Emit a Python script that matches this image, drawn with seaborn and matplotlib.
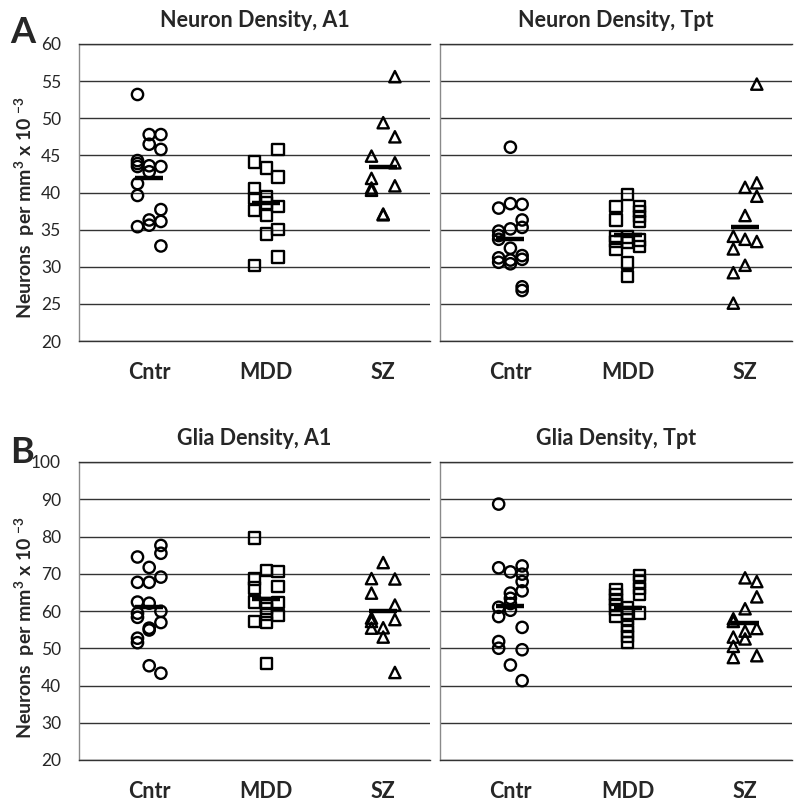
import numpy as np
import pandas as pd

import matplotlib
matplotlib.use("Agg")
import matplotlib.pyplot as plt

import seaborn as sns

GROUPS = ["Cntr", "MDD", "SZ"]
MARKERS = {"Cntr": "o", "MDD": "s", "SZ": "^"}

# each group is split in the three little columns the points sit in
neuron_a1_cntr = [[53.2, 44.3, 43.9, 43.5, 41.2, 39.6, 35.4],
                  [47.8, 46.5, 43.6, 42.8, 36.3, 35.6],
                  [47.8, 45.8, 43.5, 37.7, 36.1, 32.8]]
neuron_a1_mdd = [[44.1, 40.5, 39.2, 37.6, 30.2],
                 [43.3, 39.4, 38.6, 36.9, 34.4],
                 [45.8, 42.1, 38.1, 35.0, 31.3]]
neuron_a1_sz = [[44.9, 41.9, 40.6, 40.3],
                [49.4, 37.1, 37.0],
                [55.6, 47.5, 44.0, 40.9]]
neuron_a1_means = [42.0, 38.6, 43.5]

neuron_tpt_cntr = [[37.9, 34.8, 34.2, 33.7, 31.2, 30.6],
                   [46.1, 38.5, 35.1, 32.5, 30.9, 30.4],
                   [38.4, 36.3, 35.3, 31.5, 31.0, 27.3, 26.8]]
neuron_tpt_mdd = [[38.1, 36.3, 34.1, 33.4, 32.3],
                  [39.7, 34.0, 33.3, 30.5, 28.7],
                  [38.1, 37.4, 36.8, 36.1, 33.6, 32.7]]
neuron_tpt_sz = [[34.1, 32.4, 29.2, 25.1],
                 [40.7, 36.9, 33.7, 30.2],
                 [54.6, 41.3, 39.5, 33.4]]
neuron_tpt_means = [33.7, 34.3, 35.4]

glia_a1_cntr = [[74.5, 67.7, 62.4, 59.4, 58.3, 52.7, 51.5],
                [71.7, 67.7, 62.1, 55.4, 54.9, 45.3],
                [77.6, 75.5, 69.1, 59.9, 56.9, 43.3]]
glia_a1_mdd = [[79.6, 68.6, 66.2, 62.4, 57.1],
               [70.8, 62.0, 60.6, 59.2, 57.0, 46.0],
               [70.6, 66.5, 62.2, 58.8]]
glia_a1_sz = [[68.7, 64.8, 58.1, 57.2, 55.4],
              [73.0, 55.5, 53.0],
              [68.6, 61.6, 57.7, 43.5]]
glia_a1_means = [61.2, 63.2, 59.9]

glia_tpt_cntr = [[88.7, 71.6, 61.0, 58.5, 51.8, 50.0],
                 [70.5, 64.8, 63.4, 62.0, 60.2, 45.5],
                 [72.1, 69.9, 67.9, 65.4, 55.6, 49.6, 41.3]]
glia_tpt_mdd = [[65.8, 64.4, 63.0, 61.7, 60.4, 58.6],
                [60.8, 59.5, 57.8, 55.9, 54.5, 53.2, 51.5],
                [69.6, 67.8, 66.1, 64.4, 59.5]]
glia_tpt_sz = [[57.9, 57.2, 53.0, 50.5, 47.5],
               [68.9, 60.6, 54.6, 52.5],
               [67.9, 63.8, 55.3, 48.0]]
glia_tpt_means = [61.4, 60.7, 56.8]

YLABEL = r"Neurons  per mm$^\mathbf{3}$ x 10 $^\mathbf{-3}$"


def panel_df(groups):
    rows = []
    for gi, (name, cols) in enumerate(zip(GROUPS, groups)):
        for ci, vals in enumerate(cols):
            for v in vals:
                rows.append({"group": name, "x": gi + 1 + (ci - 1) * 0.1, "value": v})
    return pd.DataFrame(rows)


def plot_panel(ax, groups, means, title, ymax, ystep, show_yticks=True):
    df = panel_df(groups)
    for name in GROUPS:
        sub = df[df["group"] == name]
        sns.scatterplot(data=sub, x="x", y="value", marker=MARKERS[name], s=66,
                        facecolor="none", edgecolor="black", linewidth=1.7,
                        zorder=3, legend=False, ax=ax)
    pos = np.arange(1, len(GROUPS) + 1)
    ax.hlines(means, pos - 0.12, pos + 0.12, color="black", lw=3.2, zorder=4)

    ax.set_xlim(0.4, 3.4)
    ax.set_ylim(20, ymax)
    ax.set_yticks(np.arange(20, ymax + 1, ystep))
    ax.yaxis.grid(True, color="#333333", lw=1)
    ax.set_axisbelow(True)
    ax.set_xticks(pos)
    ax.set_xticklabels(GROUPS, fontweight="bold", fontsize=15.5)
    ax.tick_params(axis="x", length=0, pad=15)
    ax.tick_params(axis="y", length=0, pad=13, labelsize=12.5)
    if not show_yticks:
        ax.tick_params(axis="y", labelleft=False)
    ax.set_xlabel("")
    ax.set_ylabel("")
    ax.set_title(title, fontweight="bold", fontsize=15.5, pad=12)

    ax.spines["right"].set_visible(False)
    ax.spines["top"].set_color("#333333")
    ax.spines["bottom"].set_color("#333333")
    ax.spines["left"].set_color("#8a8a8a")
    for s in ax.spines.values():
        s.set_linewidth(1)


def main():
    sns.set_style("white")
    plt.rcParams["font.family"] = ["Lato", "DejaVu Sans"]
    plt.rcParams["mathtext.fontset"] = "custom"
    plt.rcParams["mathtext.rm"] = "Lato"
    plt.rcParams["mathtext.bf"] = "Lato:bold"

    W, H = 800, 807
    fig = plt.figure(figsize=(W / 100, H / 100), dpi=100)

    def box(x0, y0, x1, y1):
        return [x0 / W, 1 - y1 / H, (x1 - x0) / W, (y1 - y0) / H]

    ax1 = fig.add_axes(box(79, 44, 430, 341))
    ax2 = fig.add_axes(box(440, 44, 792, 341))
    ax3 = fig.add_axes(box(79, 462, 430, 760))
    ax4 = fig.add_axes(box(440, 462, 792, 760))

    plot_panel(ax1, [neuron_a1_cntr, neuron_a1_mdd, neuron_a1_sz], neuron_a1_means,
               "Neuron Density, A1", 60, 5)
    plot_panel(ax2, [neuron_tpt_cntr, neuron_tpt_mdd, neuron_tpt_sz], neuron_tpt_means,
               "Neuron Density, Tpt", 60, 5, show_yticks=False)
    plot_panel(ax3, [glia_a1_cntr, glia_a1_mdd, glia_a1_sz], glia_a1_means,
               "Glia Density, A1", 100, 10)
    plot_panel(ax4, [glia_tpt_cntr, glia_tpt_mdd, glia_tpt_sz], glia_tpt_means,
               "Glia Density, Tpt", 100, 10, show_yticks=False)

    fig.text(10 / W, 1 - 43 / H, "A", fontsize=26, fontweight="bold", va="baseline")
    fig.text(10 / W, 1 - 463 / H, "B", fontsize=26, fontweight="bold", va="baseline")
    fig.text(25 / W, 1 - 207 / H, YLABEL, rotation=90, ha="center", va="center",
             fontsize=14, fontweight="bold")
    fig.text(25 / W, 1 - 627 / H, YLABEL, rotation=90, ha="center", va="center",
             fontsize=14, fontweight="bold")

    fig.savefig("out.png", dpi=100)
    plt.close("all")


if __name__ == "__main__":
    main()
